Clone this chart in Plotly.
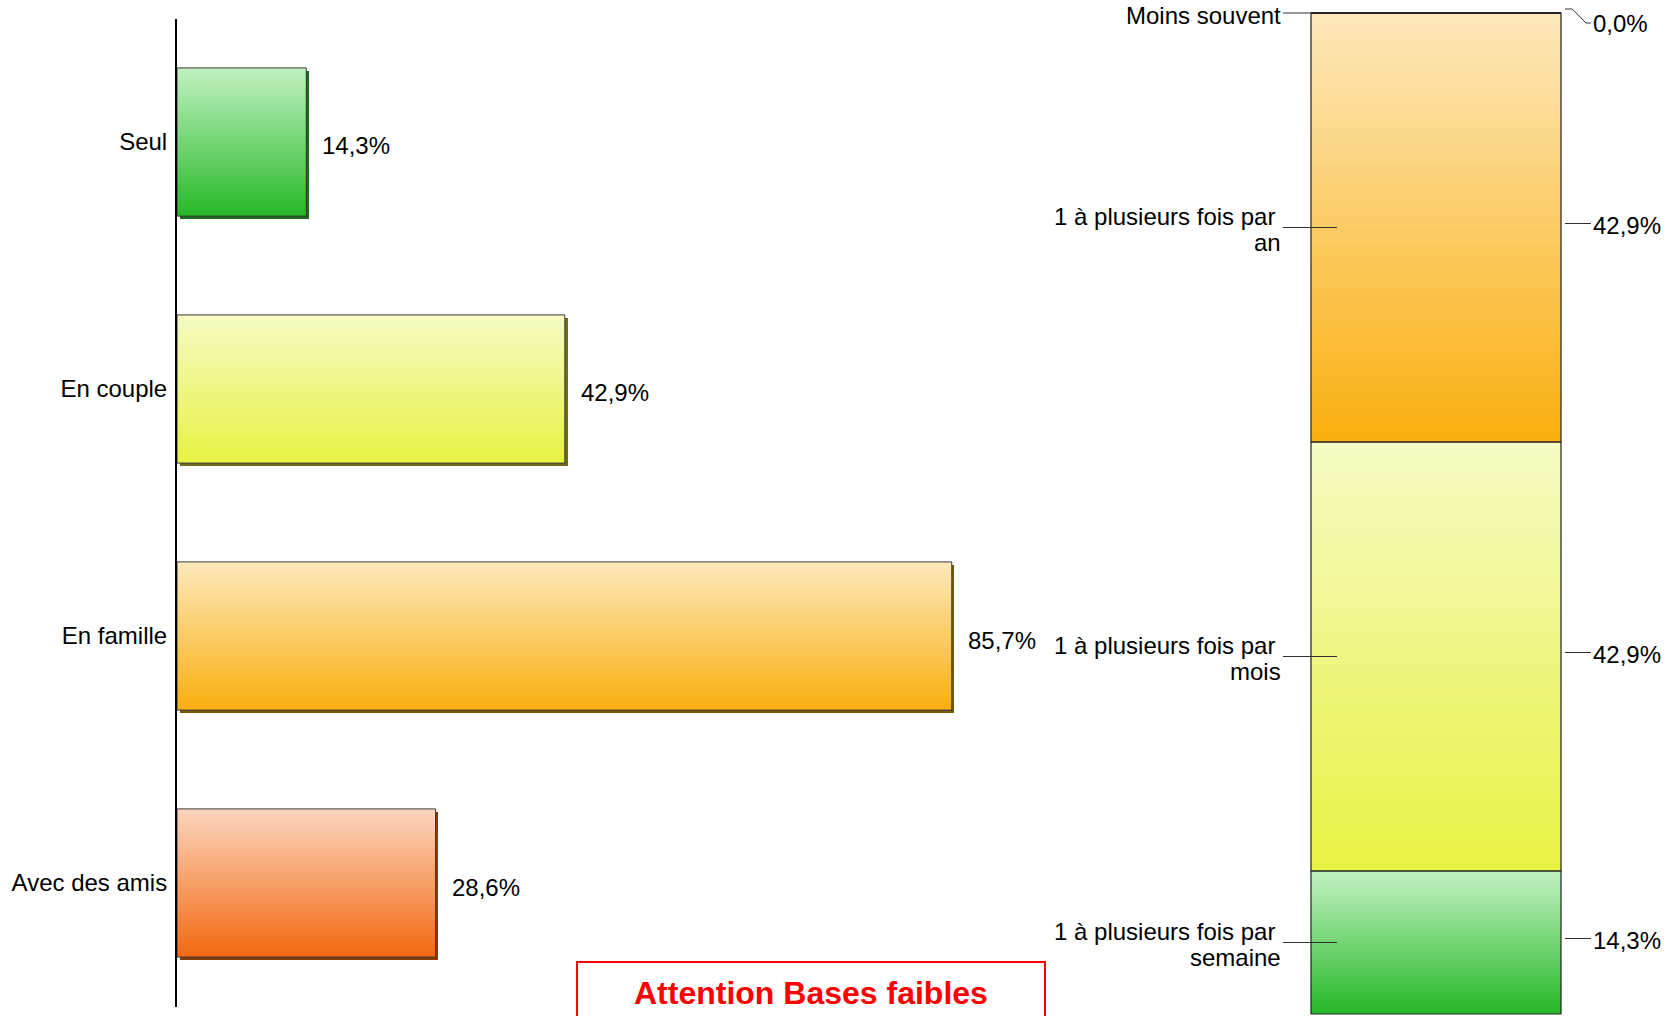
import plotly.graph_objects as go

# ---------------- Data ----------------
# Left chart (top to bottom)
categories = ["Seul", "En couple", "En famille", "Avec des amis"]
values = [14.3, 42.9, 85.7, 28.6]
value_labels = ["14,3%", "42,9%", "85,7%", "28,6%"]

# Right stacked chart (bottom to top)
freq_labels = ["1 à plusieurs fois par<br>semaine", "1 à plusieurs fois par<br>mois",
               "1 à plusieurs fois par<br>an", "Moins souvent"]
freq_values = [14.3, 42.9, 42.9, 0.0]
freq_value_labels = ["14,3%", "42,9%", "42,9%", "0,0%"]

warning_text = "Attention Bases faibles"

# ---------------- Styles ----------------
FONT = "Liberation Sans, Arial, sans-serif"
FS = 24
GREEN = ((194, 242, 194), (38, 184, 40))
YELLOW = ((246, 250, 196), (232, 242, 66))
ORANGE = ((253, 233, 188), (250, 174, 14))
SALMON = ((252, 214, 190), (242, 104, 16))
left_grad = [GREEN, YELLOW, ORANGE, SALMON]
left_shadow = ["#1f6a20", "#6e6e18", "#7a5800", "#8a3a00"]
right_grad = [GREEN, YELLOW, ORANGE, ORANGE]

N = 48
BAR_W = 0.6
LINE_GAP = 26.5  # px between two lines of a wrapped label
R_UP = 0.4       # right-hand leader lines sit slightly above segment middle


def interp(c0, c1, t):
    return "rgb(%d,%d,%d)" % tuple(round(a + (b - a) * t) for a, b in zip(c0, c1))


fig = go.Figure()

# ---------- Left chart ----------
# shadow
fig.add_trace(go.Bar(
    y=categories, x=values, base=0.3, orientation="h",
    width=BAR_W, offset=-BAR_W / 2 + 0.012,
    marker=dict(color=left_shadow, line=dict(width=0)),
    xaxis="x", yaxis="y", hoverinfo="skip", showlegend=False))
# gradient strips
for k in range(N):
    t = (k + 0.5) / N
    cols = [interp(g[0], g[1], t) for g in left_grad]
    w = BAR_W / N
    fig.add_trace(go.Bar(
        y=categories, x=values, orientation="h",
        width=w * (1.0 if k == N - 1 else 1.6), offset=-BAR_W / 2 + k * w,
        marker=dict(color=cols, line=dict(width=0)),
        xaxis="x", yaxis="y", hoverinfo="skip", showlegend=False))
# outline
fig.add_trace(go.Bar(
    y=categories, x=values, orientation="h",
    width=BAR_W, offset=-BAR_W / 2,
    marker=dict(color="rgba(0,0,0,0)", line=dict(color="#3a3a3a", width=1)),
    xaxis="x", yaxis="y", hoverinfo="skip", showlegend=False))

annotations = []
for c, v, lab in zip(categories, values, value_labels):
    annotations.append(dict(
        x=v, y=c, xref="x", yref="y", text=lab, showarrow=False,
        xanchor="left", yanchor="middle", xshift=14, yshift=-4,
        font=dict(family=FONT, size=FS, color="#000")))

# ---------- Right chart ----------
starts = []
acc = 0.0
for v in freq_values:
    starts.append(acc)
    acc += v
top = acc

for i, (v, s) in enumerate(zip(freq_values, starts)):
    if v <= 0:
        continue
    h = v / N
    bases = [s + k * h for k in range(N)]
    cols = [interp(right_grad[i][0], right_grad[i][1], 1 - (k + 0.5) / N) for k in range(N)]
    heights = [h * (1.6 if k < N - 1 else 1.0) for k in range(N)]
    fig.add_trace(go.Bar(
        x=[0] * N, y=heights, base=bases, width=1,
        marker=dict(color=cols, line=dict(width=0)),
        xaxis="x2", yaxis="y2", hoverinfo="skip", showlegend=False))

fig.add_trace(go.Bar(
    x=[0] * len(freq_values), y=freq_values, base=starts, width=1,
    marker=dict(color="rgba(0,0,0,0)",
                line=dict(color="#222", width=[2.2 if v <= 0 else 1.2 for v in freq_values])),
    xaxis="x2", yaxis="y2", hoverinfo="skip", showlegend=False))

# leader lines
lx, ly, rx, ry = [], [], [], []
for v, s in zip(freq_values, starts):
    mid = s + v / 2
    if v > 0:
        lx += [-0.612, -0.396, None]
        ly += [mid, mid, None]
        rx += [0.516, 0.62, None]
        ry += [mid + R_UP, mid + R_UP, None]
    else:
        lx += [-0.612, -0.5, None]
        ly += [mid, mid, None]
        rx += [0.516, 0.545, 0.60, 0.62, None]
        ry += [mid + 0.4, mid + 0.4, mid - 1.0, mid - 1.0, None]
fig.add_trace(go.Scatter(x=lx, y=ly, mode="lines", line=dict(color="#303030", width=1),
                         xaxis="x2", yaxis="y2", hoverinfo="skip", showlegend=False))
fig.add_trace(go.Scatter(x=rx, y=ry, mode="lines", line=dict(color="#303030", width=1),
                         xaxis="x2", yaxis="y2", hoverinfo="skip", showlegend=False))

for v, s, lab, vl in zip(freq_values, starts, freq_labels, freq_value_labels):
    mid = s + v / 2
    lines = lab.split("<br>")
    n = len(lines)
    for j, line in enumerate(lines):
        annotations.append(dict(
            x=-0.612, y=mid, xref="x2", yref="y2", text=line, showarrow=False,
            xanchor="right", yanchor="middle", align="right",
            xshift=(-6 if j < n - 1 else 0),
            yshift=-2 + ((n - 1) / 2 - j) * LINE_GAP,
            font=dict(family=FONT, size=FS, color="#000")))
    annotations.append(dict(
        x=0.62, y=mid, xref="x2", yref="y2", text=vl, showarrow=False,
        xanchor="left", yanchor="middle", yshift=(-10 if v <= 0 else 2),
        font=dict(family=FONT, size=FS, color="#000")))

# warning
annotations.append(dict(
    x=811 / 1674, y=1 - 993 / 1016, xref="paper", yref="paper",
    text="<b>" + warning_text + "</b>", showarrow=False,
    xanchor="center", yanchor="middle",
    font=dict(family=FONT, size=32, color="#ff0000")))

shapes = [dict(type="rect", xref="paper", yref="paper",
               x0=577 / 1674, x1=1045 / 1674, y0=-0.1, y1=1 - 962 / 1016,
               line=dict(color="#ff0000", width=2), fillcolor="rgba(0,0,0,0)")]

W, H = 1674, 1016
fig.update_layout(
    width=W, height=H,
    margin=dict(l=0, r=0, t=0, b=0),
    paper_bgcolor="white", plot_bgcolor="rgba(0,0,0,0)",
    barmode="overlay", bargap=0,
    showlegend=False,
    font=dict(family=FONT, size=FS, color="#000"),
    xaxis=dict(domain=[177 / W, 1081 / W], range=[0, 100], showgrid=False,
               zeroline=False, showline=False, showticklabels=False, ticks=""),
    yaxis=dict(domain=[1 - 1006.5 / H, 1 - 18.5 / H], range=[3.5, -0.5],
               type="category", categoryorder="array", categoryarray=categories,
               showgrid=False, zeroline=False, showline=True, linecolor="#000",
               linewidth=2, ticks="", ticklabelstandoff=3,
               tickfont=dict(family=FONT, size=FS, color="#000")),
    xaxis2=dict(domain=[0, 1], range=[-0.5 - 1311 / 250, 0.5 + (W - 1561) / 250],
                anchor="y2", showgrid=False, zeroline=False, showline=False,
                showticklabels=False, ticks=""),
    yaxis2=dict(domain=[0, 1], range=[-0.2, 100.1 + 13 / 10.0], anchor="x2",
                showgrid=False, zeroline=False, showline=False,
                showticklabels=False, ticks=""),
    annotations=annotations,
    shapes=shapes,
)

fig.write_html("out.html",
               config={"displayModeBar": False, "staticPlot": True},
               post_script="document.body.style.margin='0';document.body.style.overflow='hidden';")
